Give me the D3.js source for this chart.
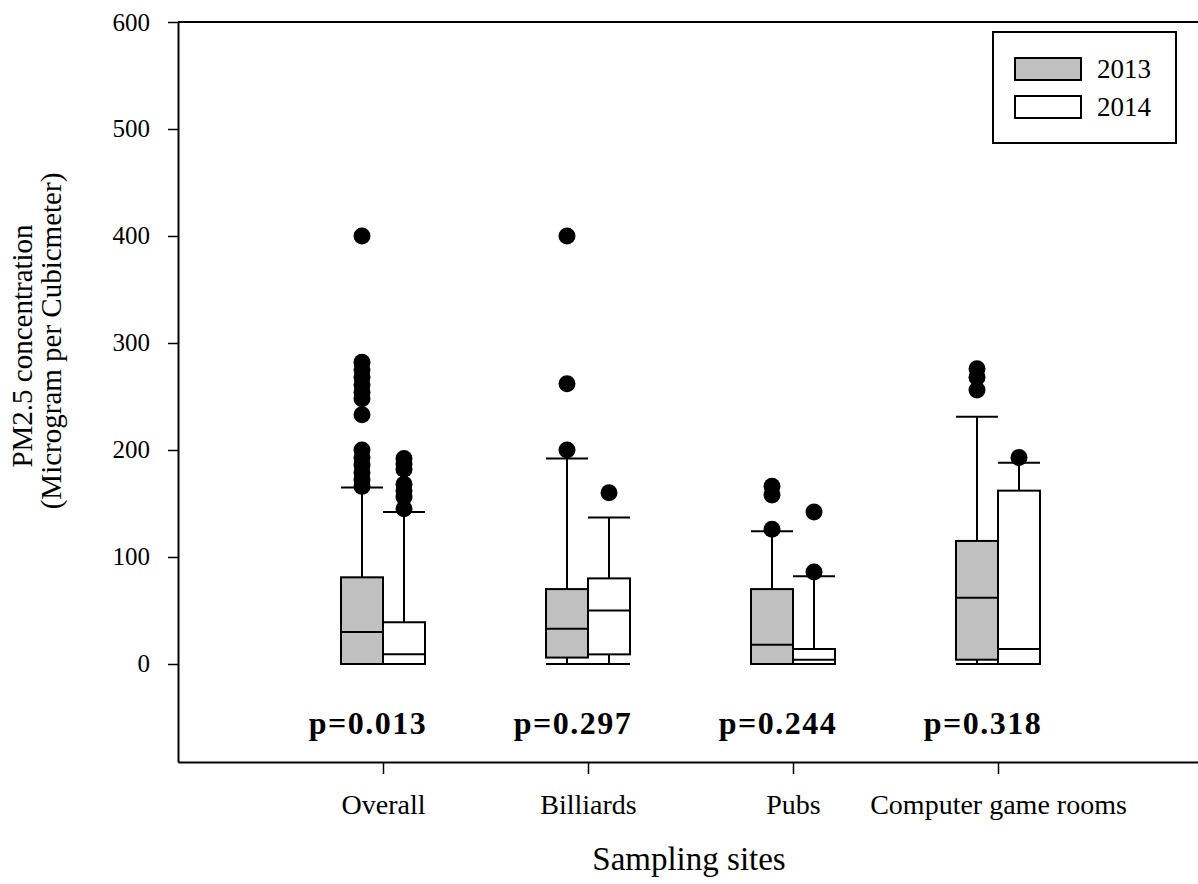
<!DOCTYPE html>
<html>
<head>
<meta charset="utf-8">
<script src="https://cdn.jsdelivr.net/npm/d3@7"></script>
<style>
  body { margin: 0; background: #fff; }
  svg { display: block; font-family: "Liberation Serif", "DejaVu Serif", serif; }
</style>
</head>
<body>
<svg width="1198" height="884"></svg>
<script>
var categories = ["Overall", "Billiards", "Pubs", "Computer game rooms"];
var years = ["2013", "2014"];
var pValues = ["p=0.013", "p=0.297", "p=0.244", "p=0.318"];
var yTicks = [0, 100, 200, 300, 400, 500, 600];

// 2013 box stats per site
var low2013 = [0, 0, 0, 0];
var q1_2013 = [0, 6, 0, 4];
var median2013 = [30, 33, 18, 62];
var q3_2013 = [81, 70, 70, 115];
var high2013 = [165, 192, 124, 231];
var outliers2013 = [
  [400, 282, 275, 268, 261, 254, 248, 233, 200, 193, 186, 179, 172, 166],
  [400, 262, 200],
  [166, 158, 126],
  [276, 268, 256]
];

// 2014 box stats per site
var low2014 = [0, 0, 0, 0];
var q1_2014 = [0, 9, 0, 0];
var median2014 = [9, 50, 4, 14];
var q3_2014 = [39, 80, 14, 162];
var high2014 = [142, 137, 82, 188];
var outliers2014 = [
  [192, 187, 182, 168, 162, 156, 145],
  [160],
  [142, 86],
  [193]
];

var fills = { "2013": "#c0c0c0", "2014": "#ffffff" };

var svg = d3.select("svg");
var mLeft = 178, mRight = 1203, mTop = 22, mBottom = 762;

var y = d3.scaleLinear().domain([-91.6, 600]).range([mBottom, mTop]);
var x = d3.scalePoint().domain(categories).range([mLeft, mRight]).padding(1);
var inner = d3.scaleBand().domain(years).range([-42, 42]);

// build rows from the arrays
var boxes = [];
categories.forEach(function(c, i) {
  boxes.push({ site: c, year: "2013", low: low2013[i], q1: q1_2013[i], med: median2013[i], q3: q3_2013[i], high: high2013[i], out: outliers2013[i] });
  boxes.push({ site: c, year: "2014", low: low2014[i], q1: q1_2014[i], med: median2014[i], q3: q3_2014[i], high: high2014[i], out: outliers2014[i] });
});

// frame top line
svg.append("line").attr("x1", mLeft).attr("x2", 1198).attr("y1", mTop).attr("y2", mTop)
  .attr("stroke", "#000").attr("stroke-width", 2);

// y axis
var yAxis = svg.append("g")
  .attr("transform", "translate(" + mLeft + ",0)")
  .call(d3.axisLeft(y).tickValues(yTicks).tickSize(10).tickPadding(18).tickSizeOuter(0));
yAxis.select(".domain").attr("stroke-width", 2);
yAxis.selectAll(".tick line").attr("stroke-width", 1.5);
yAxis.selectAll("text").attr("font-size", 25).attr("font-family", "Liberation Serif").attr("fill", "#000");

// x axis
var xAxis = svg.append("g")
  .attr("transform", "translate(0," + mBottom + ")")
  .call(d3.axisBottom(x).tickSize(12).tickPadding(20).tickSizeOuter(0));
xAxis.select(".domain").attr("stroke-width", 2);
xAxis.selectAll(".tick line").attr("stroke-width", 1.5);
xAxis.selectAll("text").attr("font-size", 28).attr("font-family", "Liberation Serif").attr("fill", "#000");

var bw = inner.bandwidth();
var g = svg.selectAll(".box").data(boxes).enter().append("g")
  .attr("class", "box")
  .attr("transform", function(d) { return "translate(" + (x(d.site) + inner(d.year)) + ",0)"; });

// whiskers
g.append("line").attr("x1", bw / 2).attr("x2", bw / 2)
  .attr("y1", function(d) { return y(d.q3); }).attr("y2", function(d) { return y(d.high); })
  .attr("stroke", "#000").attr("stroke-width", 2);
g.append("line").attr("x1", bw / 2).attr("x2", bw / 2)
  .attr("y1", function(d) { return y(d.q1); }).attr("y2", function(d) { return y(d.low); })
  .attr("stroke", "#000").attr("stroke-width", 2);
g.append("line").attr("x1", 0).attr("x2", bw)
  .attr("y1", function(d) { return y(d.high); }).attr("y2", function(d) { return y(d.high); })
  .attr("stroke", "#000").attr("stroke-width", 2);
g.append("line").attr("x1", 0).attr("x2", bw)
  .attr("y1", function(d) { return y(d.low); }).attr("y2", function(d) { return y(d.low); })
  .attr("stroke", "#000").attr("stroke-width", 2);

// boxes
g.append("rect").attr("x", 0).attr("width", bw)
  .attr("y", function(d) { return y(d.q3); })
  .attr("height", function(d) { return y(d.q1) - y(d.q3); })
  .attr("fill", function(d) { return fills[d.year]; })
  .attr("stroke", "#000").attr("stroke-width", 2);
g.append("line").attr("x1", 0).attr("x2", bw)
  .attr("y1", function(d) { return y(d.med); }).attr("y2", function(d) { return y(d.med); })
  .attr("stroke", "#000").attr("stroke-width", 2);

// outliers
g.selectAll("circle").data(function(d) { return d.out; }).enter().append("circle")
  .attr("cx", bw / 2).attr("cy", function(v) { return y(v); }).attr("r", 8.5)
  .attr("fill", "#000");

// p values
svg.selectAll(".pval").data(pValues).enter().append("text")
  .attr("class", "pval")
  .attr("x", function(d, i) { return x(categories[i]) - 15; })
  .attr("y", 734)
  .attr("text-anchor", "middle")
  .attr("font-size", 32).attr("font-weight", "bold")
  .attr("letter-spacing", 1.5)
  .text(function(d) { return d; });

// axis titles
svg.append("text").attr("x", 689).attr("y", 870).attr("text-anchor", "middle")
  .attr("font-size", 33).text("Sampling sites");
svg.append("text").attr("transform", "translate(32,346) rotate(-90)").attr("text-anchor", "middle")
  .attr("font-size", 29).text("PM2.5 concentration");
svg.append("text").attr("transform", "translate(61,341) rotate(-90)").attr("text-anchor", "middle")
  .attr("font-size", 29).text("(Microgram per Cubicmeter)");

// legend
var leg = svg.append("g");
leg.append("rect").attr("x", 993).attr("y", 32).attr("width", 183).attr("height", 111)
  .attr("fill", "#fff").attr("stroke", "#000").attr("stroke-width", 2);
var li = leg.selectAll(".li").data(years).enter().append("g")
  .attr("transform", function(d, i) { return "translate(1015," + (58 + i * 38) + ")"; });
li.append("rect").attr("width", 66).attr("height", 22)
  .attr("fill", function(d) { return fills[d]; }).attr("stroke", "#000").attr("stroke-width", 2);
li.append("text").attr("x", 82).attr("y", 20).attr("font-size", 27).text(function(d) { return d; });
</script>
</body>
</html>
